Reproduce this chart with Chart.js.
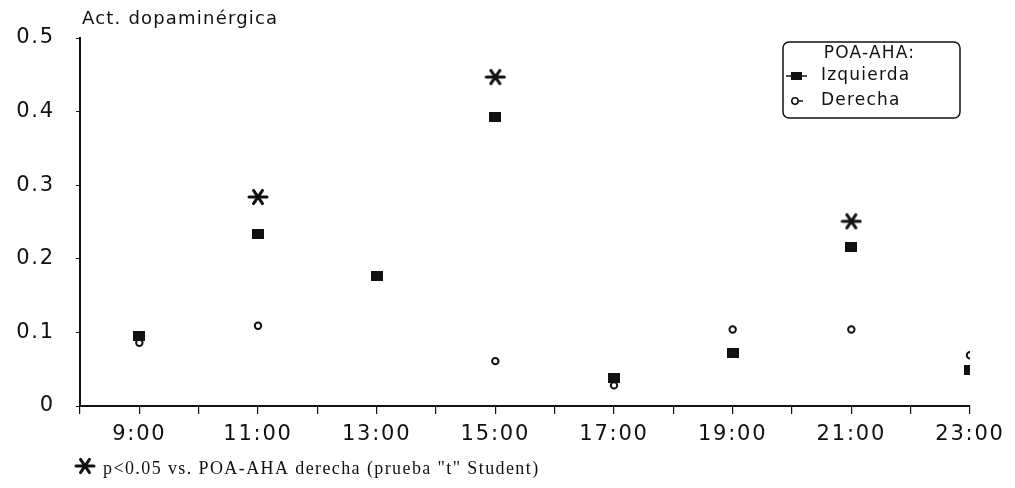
<!DOCTYPE html>
<html><head><meta charset="utf-8">
<script src="https://cdn.jsdelivr.net/npm/chart.js@4.4.0/dist/chart.umd.min.js"></script>
<style>html,body{margin:0;padding:0;background:#fff;} #wrap{width:1015px;height:488px;position:relative;}</style>
</head><body><div id="wrap"><canvas id="c" width="1015" height="488"></canvas></div>
<script>
// ---- data ----
const hours = [9, 11, 13, 15, 17, 19, 21, 23];
const hourLabels = ['9:00', '11:00', '13:00', '15:00', '17:00', '19:00', '21:00', '23:00'];
const izquierda = [0.095, 0.234, 0.177, 0.393, 0.038, 0.072, 0.216, 0.049];
const derecha = [0.086, 0.109, null, 0.061, 0.028, 0.104, 0.104, 0.069];
const sigHours = [11, 15, 21];
const sigValues = [0.284, 0.447, 0.251];
const yTicks = [0, 0.1, 0.2, 0.3, 0.4, 0.5];
const yTickLabels = ['0', '0.1', '0.2', '0.3', '0.4', '0.5'];
const yTitle = 'Act. dopaminérgica';
const legendTitle = 'POA-AHA:';
const seriesNames = ['Izquierda', 'Derecha'];
const footnote = 'p<0.05 vs. POA-AHA derecha (prueba "t" Student)';

// ---- marker images ----
function makeSquare() {
  const c = document.createElement('canvas'); c.width = 12; c.height = 10;
  const g = c.getContext('2d'); g.fillStyle = '#111'; g.fillRect(0, 0, 12, 10);
  return c;
}
function makeAsterisk() {
  const c = document.createElement('canvas'); c.width = 22; c.height = 18;
  const g = c.getContext('2d'); g.strokeStyle = '#111'; g.lineWidth = 3; g.lineCap = 'round';
  const cx = 11, cy = 9, L = 9;
  for (const a of [0, Math.PI / 3, 2 * Math.PI / 3]) {
    g.beginPath();
    g.moveTo(cx - L * Math.cos(a), cy - L * Math.sin(a) * 0.85);
    g.lineTo(cx + L * Math.cos(a), cy + L * Math.sin(a) * 0.85);
    g.stroke();
  }
  return c;
}
const squareImg = makeSquare();
const starImg = makeAsterisk();

const FONT = '"DejaVu Sans", "Liberation Sans", sans-serif';
const TICK_SPACING = '1.8px';

const spacing = {
  id: 'spacing',
  beforeLayout(chart) { chart.ctx.letterSpacing = TICK_SPACING; },
  beforeDraw(chart) { chart.ctx.letterSpacing = TICK_SPACING; }
};

const overlay = {
  id: 'overlay',
  afterDraw(chart) {
    const ctx = chart.ctx, a = chart.chartArea;
    ctx.save();
    // y title
    ctx.fillStyle = '#111';
    ctx.letterSpacing = '1.2px';
    ctx.font = '18px ' + FONT;
    ctx.textAlign = 'left'; ctx.textBaseline = 'middle';
    ctx.fillText(yTitle, a.left + 2, 19);
    // legend box
    const bx = 783, by = 42, bw = 177, bh = 76;
    ctx.lineWidth = 1.5; ctx.strokeStyle = '#111';
    ctx.beginPath(); ctx.roundRect(bx, by, bw, bh, 6); ctx.stroke();
    ctx.letterSpacing = '1.2px';
    ctx.font = '17px ' + FONT;
    ctx.textAlign = 'center';
    ctx.fillText(legendTitle, bx + bw / 2 - 2, by + 12);
    ctx.textAlign = 'left';
    // Izquierda entry
    let y = by + 34;
    ctx.lineWidth = 1.5;
    ctx.beginPath(); ctx.moveTo(bx + 3, y); ctx.lineTo(bx + 24, y); ctx.stroke();
    ctx.fillRect(bx + 8, y - 4, 11, 8);
    ctx.fillText(seriesNames[0], bx + 38, y);
    // Derecha entry
    y = by + 59;
    ctx.beginPath(); ctx.moveTo(bx + 8, y); ctx.lineTo(bx + 20, y); ctx.stroke();
    ctx.fillStyle = '#fff';
    ctx.beginPath(); ctx.arc(bx + 12, y, 3.2, 0, Math.PI * 2); ctx.fill(); ctx.stroke();
    ctx.fillStyle = '#111';
    ctx.fillText(seriesNames[1], bx + 38, y);
    // footnote
    ctx.drawImage(starImg, 74, 457);
    ctx.letterSpacing = '1.4px';
    ctx.font = '18px "Liberation Serif", "DejaVu Serif", serif';
    ctx.fillText(footnote, 103, 469);
    ctx.restore();
  }
};

new Chart(document.getElementById('c'), {
  type: 'scatter',
  data: {
    datasets: [
      {
        label: seriesNames[0],
        data: hours.map((h, i) => ({ x: h, y: izquierda[i] })),
        pointStyle: squareImg, showLine: false
      },
      {
        label: seriesNames[1],
        data: hours.map((h, i) => ({ x: h, y: derecha[i] })).filter(p => p.y !== null),
        pointStyle: 'circle', pointRadius: 3.2, borderColor: '#111', borderWidth: 2,
        backgroundColor: '#fff', showLine: false
      },
      {
        label: 'sig',
        data: sigHours.map((h, i) => ({ x: h, y: sigValues[i] })),
        pointStyle: starImg, showLine: false
      }
    ]
  },
  options: {
    responsive: false,
    animation: false,
    devicePixelRatio: 1,
    layout: { padding: { left: 0, right: 45, top: 38, bottom: 38 } },
    plugins: { legend: { display: false }, tooltip: { enabled: false }, title: { display: false } },
    scales: {
      x: {
        type: 'linear', min: 8, max: 23,
        afterFit(s) { s.height = 44; },
        afterBuildTicks(s) { s.ticks = []; for (let h = 8; h <= 23; h++) s.ticks.push({ value: h }); },
        ticks: {
          autoSkip: false, maxRotation: 0, padding: 8, color: '#111',
          font: { family: FONT, size: 21 },
          callback: (v) => { const i = hours.indexOf(v); return i >= 0 ? hourLabels[i] : ''; }
        },
        grid: { drawOnChartArea: false, tickLength: 8, color: '#111', lineWidth: 1.2 },
        border: { color: '#111', width: 2 }
      },
      y: {
        min: 0, max: 0.5,
        afterFit(s) { s.width = 80; },
        afterBuildTicks(s) { s.ticks = yTicks.map(v => ({ value: v })); },
        ticks: {
          padding: 21, color: '#111', font: { family: FONT, size: 21 },
          callback: (v) => { const i = yTicks.findIndex(t => Math.abs(t - v) < 1e-9); return i >= 0 ? yTickLabels[i] : ''; }
        },
        grid: { drawOnChartArea: false, tickLength: 4, color: '#111', lineWidth: 1 },
        border: { color: '#111', width: 2 }
      }
    }
  },
  plugins: [spacing, overlay]
});
</script>
</body></html>
